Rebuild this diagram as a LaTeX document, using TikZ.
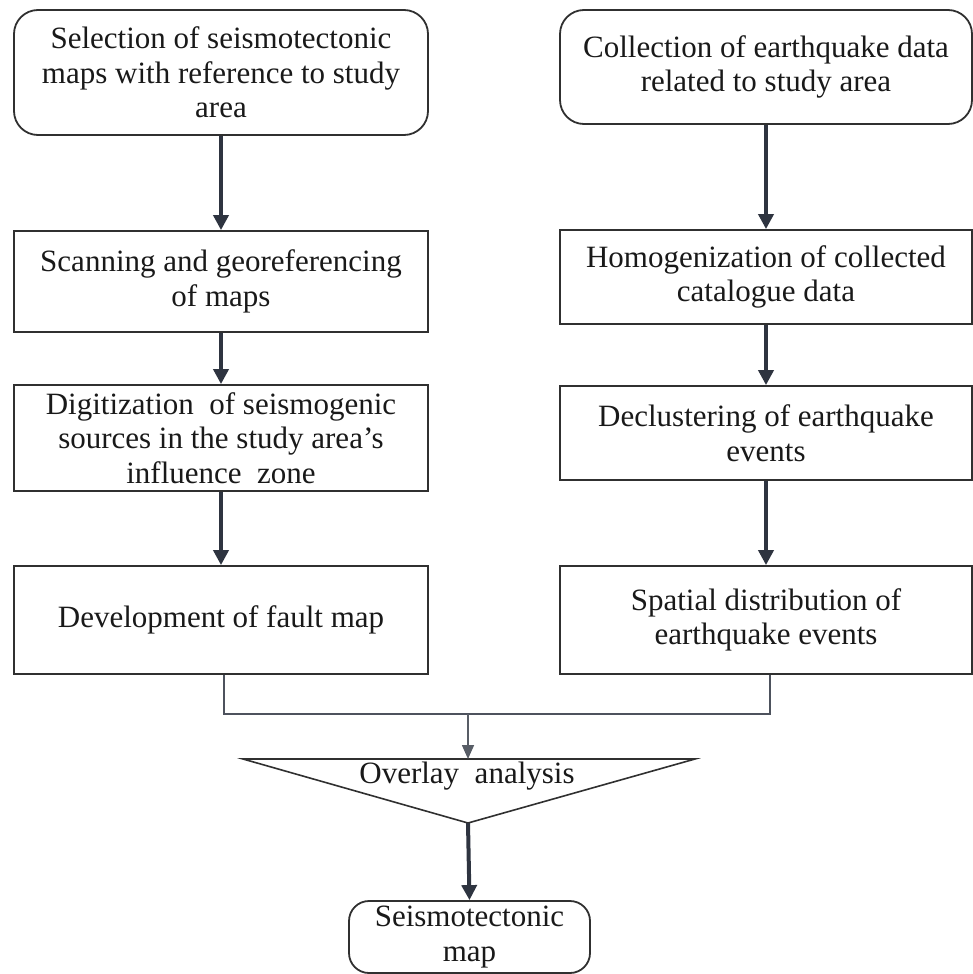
\documentclass[tikz,border=0pt]{standalone}
\usepackage{fontspec}
\setmainfont{Liberation Serif}
\usetikzlibrary{arrows.meta}
\definecolor{linec}{HTML}{2E3440}
\definecolor{boxc}{HTML}{303030}
\begin{document}
\begin{tikzpicture}[x=1pt,y=-1pt,
  box/.style={draw=boxc,line width=1.8pt,align=center,inner sep=0pt,
    font=\fontsize{31}{34.5}\selectfont,text=black!90},
  rbox/.style={box,rounded corners=24pt},
  flow/.style={draw=linec,line width=4pt,-{Triangle[length=15pt,width=15pt]}},
  thinflow/.style={draw=linec!80,line width=1.6pt,-{Triangle[length=14pt,width=12pt]}},
  joinline/.style={draw=linec!85,line width=2.6pt}]
\useasboundingbox (0,0) rectangle (973,974);
% left column
\node[rbox,minimum width=414pt,minimum height=125pt] (L1) at (221,72.5) {Selection of seismotectonic\\maps with reference to study\\area};
\node[box,minimum width=414pt,minimum height=101pt] (L2) at (221,281.5) {Scanning and georeferencing\\of maps};
\node[box,minimum width=414pt,minimum height=106pt] (L3) at (221,438) {Digitization \ of seismogenic\\sources in the study area’s\\influence \ zone};
\node[box,minimum width=414pt,minimum height=108pt] (L4) at (221,620) {Development of fault map};
% right column
\node[rbox,minimum width=412pt,minimum height=114pt] (R1) at (766,67) {Collection of earthquake data\\related to study area};
\node[box,minimum width=412pt,minimum height=94pt] (R2) at (766,277) {Homogenization of collected\\catalogue data};
\node[box,minimum width=412pt,minimum height=94pt] (R3) at (766,433) {Declustering of earthquake\\events};
\node[box,minimum width=412pt,minimum height=108pt] (R4) at (766,620) {Spatial distribution of\\earthquake events};
% arrows
\draw[flow] (L1.south) -- (L2.north);
\draw[flow] (L2.south) -- (L3.north);
\draw[flow] (L3.south) -- (L4.north);
\draw[flow] (R1.south) -- (R2.north);
\draw[flow] (R2.south) -- (R3.north);
\draw[flow] (R3.south) -- (R4.north);
% join
\coordinate (jl) at (224,714);
\coordinate (jr) at (770,714);
\coordinate (jm) at (468,714);
\draw[joinline] (L4.south -| jl) -- (jl) -- (jr) -- (R4.south -| jr);
% triangle
\coordinate (tl) at (243,759);
\coordinate (tr) at (695,759);
\coordinate (tb) at (468,823);
\coordinate (tt) at (468,759);
\draw[boxc,line width=1.6pt,line join=miter] (tl) -- (tr) -- (tb) -- cycle;
\node[font=\fontsize{31}{34.5}\selectfont,text=black!90] (ov) at (467,776) {Overlay \ analysis};
\draw[thinflow] (jm) -- (tt);
% bottom
\node[rbox,rounded corners=20pt,minimum width=241pt,minimum height=72pt] (B) at (469.5,937) {Seismotectonic\\map};
\draw[flow] (tb) -- (B.north);
\end{tikzpicture}
\end{document}
